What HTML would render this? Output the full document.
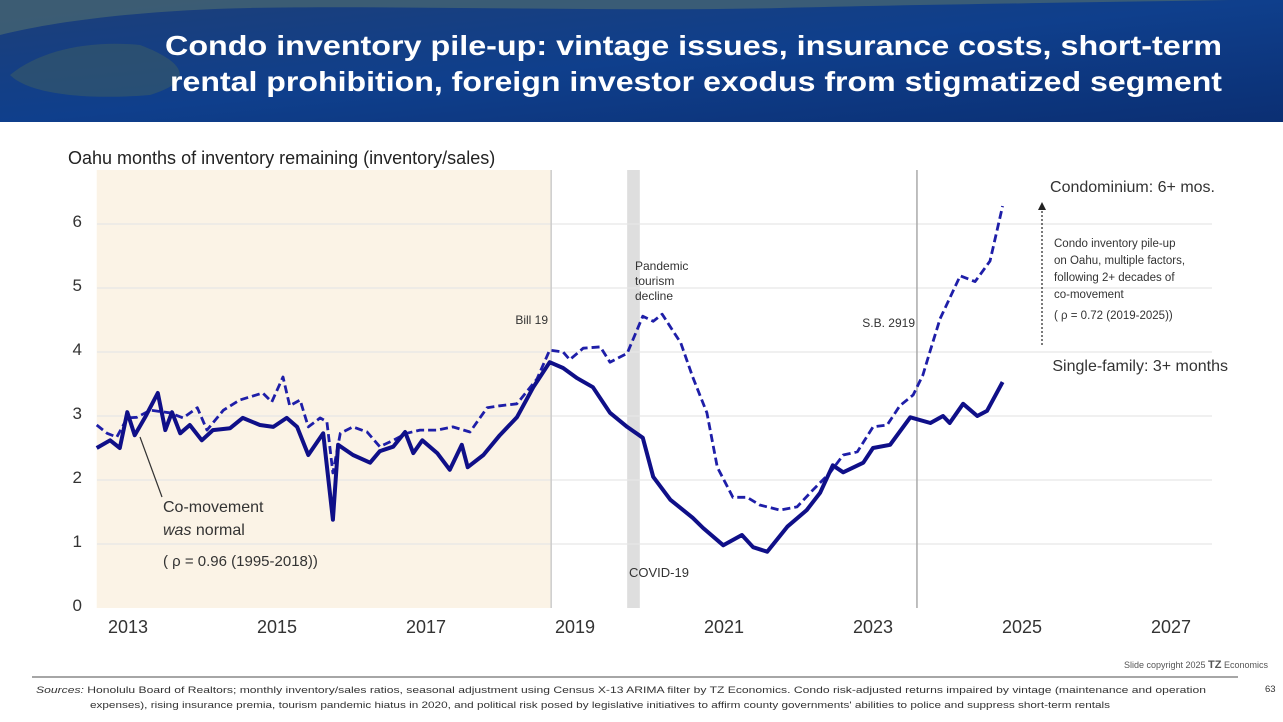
<!DOCTYPE html>
<html><head><meta charset="utf-8"><style>
html,body{margin:0;padding:0;background:#fff;}
body{width:1283px;height:722px;overflow:hidden;position:relative;font-family:"Liberation Sans",sans-serif;}
svg{position:absolute;left:0;top:0;}
</style></head><body>
<svg id="chart" width="1283" height="722" viewBox="0 0 1283 722">
<defs>
<linearGradient id="sea" x1="0" y1="0" x2="1" y2="1">
<stop offset="0" stop-color="#1d3f78"/><stop offset="0.5" stop-color="#0f3f8c"/><stop offset="1" stop-color="#0b2f73"/>
</linearGradient>
</defs>
<g>
<rect x="0" y="0" width="1283" height="122" fill="url(#sea)"/>
<path d="M0,35 C60,20 150,10 250,8 C400,5 600,12 780,8 C900,5 1050,3 1230,0 L0,0 Z" fill="#4a6a70" opacity="0.7"/>
<path d="M10,75 C40,50 90,40 140,45 C180,60 200,80 150,95 C90,100 30,95 10,75 Z" fill="#3d5c64" opacity="0.55"/>
<text x="165" y="55" textLength="1057" lengthAdjust="spacingAndGlyphs" font-size="28" font-weight="bold" fill="#fff">Condo inventory pile-up:  vintage issues, insurance costs, short-term</text>
<text x="170" y="91" textLength="1052" lengthAdjust="spacingAndGlyphs" font-size="28" font-weight="bold" fill="#fff">rental prohibition, foreign investor exodus from stigmatized segment</text>
</g>
<text x="68" y="164" font-size="18" fill="#222">Oahu months of inventory remaining (inventory/sales)</text>
<g id="plot"></g>
<text x="1215" y="192" text-anchor="end" font-size="16" fill="#333">Condominium:  6+ mos.</text>
<text x="1228" y="371" text-anchor="end" font-size="16" fill="#333">Single-family:  3+ months</text>
<line x1="1042" y1="345" x2="1042" y2="208" stroke="#222" stroke-width="1.2" stroke-dasharray="2,2"/>
<path d="M1038,210 L1042,202 L1046,210 Z" fill="#222"/>
<g font-size="11.5" fill="#333">
<text x="1054" y="247">Condo inventory pile-up</text>
<text x="1054" y="264">on Oahu, multiple factors,</text>
<text x="1054" y="281">following 2+ decades of</text>
<text x="1054" y="298">co-movement</text>
<text x="1054" y="319">( ρ = 0.72  (2019-2025))</text>
</g>
<g font-size="16" fill="#333">
<line x1="162" y1="497" x2="140" y2="437" stroke="#333" stroke-width="1.2"/>
<text x="163" y="512">Co-movement</text>
<text x="163" y="535"><tspan font-style="italic">was</tspan> normal</text>
<text x="163" y="566" font-size="15">( ρ = 0.96  (1995-2018))</text>
</g>
<text x="636" y="270" font-size="12" fill="#333"><tspan x="635" dy="0">Pandemic</tspan><tspan x="635" dy="15">tourism</tspan><tspan x="635" dy="15">decline</tspan></text>
<text x="548" y="324" text-anchor="end" font-size="12" fill="#333">Bill 19</text>
<text x="915" y="327" text-anchor="end" font-size="12" fill="#333">S.B. 2919</text>
<text x="629" y="577" font-size="13" fill="#333">COVID-19</text>
<g>
<text x="1268" y="668" text-anchor="end" font-size="9" fill="#555">Slide copyright 2025 <tspan font-weight="bold" font-size="11">TZ</tspan> Economics</text>
<line x1="32" y1="677" x2="1238" y2="677" stroke="#888" stroke-width="1.5"/>
<text x="36" y="693" font-size="9.5" textLength="1170" lengthAdjust="spacingAndGlyphs" fill="#333"><tspan font-style="italic">Sources:</tspan>  Honolulu Board of Realtors; monthly inventory/sales ratios, seasonal adjustment using Census X-13 ARIMA filter by TZ Economics.  Condo risk-adjusted returns impaired by vintage (maintenance and operation</text>
<text x="90" y="708" font-size="9.5" textLength="1020" lengthAdjust="spacingAndGlyphs" fill="#333">expenses), rising insurance premia, tourism pandemic hiatus in 2020, and political risk posed by legislative initiatives to affirm county governments' abilities to police and suppress short-term rentals</text>
<text x="1265" y="692" font-size="9.5" fill="#333">63</text>
</g>
</svg>
<script>
const yTicks=[0,1,2,3,4,5,6];
const xTicks=[2013,2015,2017,2019,2021,2023,2025,2027];
const sfYears=[2012.58,2012.76,2012.89,2012.99,2013.09,2013.23,2013.40,2013.50,2013.59,2013.70,2013.83,2013.99,2014.14,2014.37,2014.54,2014.77,2014.95,2015.13,2015.27,2015.42,2015.62,2015.75,2015.82,2016.02,2016.25,2016.38,2016.56,2016.72,2016.83,2016.95,2017.15,2017.32,2017.48,2017.56,2017.77,2017.99,2018.22,2018.44,2018.66,2018.84,2019.03,2019.24,2019.47,2019.70,2019.91,2020.05,2020.28,2020.58,2020.72,2020.99,2021.24,2021.39,2021.58,2021.85,2022.11,2022.29,2022.46,2022.60,2022.87,2023.00,2023.23,2023.50,2023.77,2023.94,2024.03,2024.21,2024.40,2024.53,2024.74];
const sfValues=[2.5,2.62,2.5,3.06,2.7,2.98,3.36,2.78,3.06,2.73,2.86,2.62,2.78,2.81,2.97,2.86,2.83,2.97,2.83,2.39,2.73,1.38,2.55,2.39,2.27,2.45,2.52,2.75,2.42,2.62,2.42,2.16,2.55,2.2,2.39,2.7,2.98,3.45,3.84,3.75,3.59,3.45,3.05,2.83,2.66,2.05,1.69,1.41,1.25,0.98,1.14,0.95,0.88,1.27,1.53,1.8,2.23,2.12,2.27,2.5,2.55,2.98,2.89,3.0,2.89,3.19,3.0,3.08,3.53];
const condoYears=[2012.58,2012.72,2012.85,2012.99,2013.12,2013.30,2013.56,2013.74,2013.93,2014.06,2014.28,2014.50,2014.81,2014.93,2015.08,2015.17,2015.31,2015.42,2015.58,2015.67,2015.75,2015.85,2016.02,2016.21,2016.38,2016.56,2016.74,2016.92,2017.15,2017.36,2017.59,2017.82,2017.99,2018.22,2018.49,2018.66,2018.84,2018.93,2019.11,2019.34,2019.47,2019.70,2019.91,2020.05,2020.17,2020.42,2020.58,2020.77,2020.91,2021.12,2021.31,2021.48,2021.75,2021.98,2022.19,2022.42,2022.60,2022.79,2023.00,2023.19,2023.36,2023.54,2023.67,2023.77,2023.90,2024.03,2024.17,2024.37,2024.57,2024.74];
const condoValues=[2.86,2.73,2.67,2.97,2.98,3.09,3.05,2.97,3.13,2.78,3.09,3.25,3.36,3.22,3.61,3.16,3.25,2.83,2.97,2.91,2.11,2.73,2.83,2.75,2.52,2.62,2.73,2.78,2.78,2.83,2.75,3.13,3.16,3.19,3.58,4.03,4.0,3.88,4.06,4.08,3.84,3.98,4.56,4.48,4.59,4.14,3.61,3.05,2.2,1.73,1.73,1.61,1.53,1.58,1.84,2.11,2.39,2.44,2.83,2.86,3.16,3.33,3.64,4.03,4.52,4.84,5.19,5.1,5.42,6.28];
const shadeRange=[2012.58,2018.68];
const covidRange=[2019.7,2019.87];
const sbYear=[2023.59];

const NS="http://www.w3.org/2000/svg";
const X=y=>128+(y-2013)*74.5;
const Y=v=>608-v*64;
const plot=document.getElementById('plot');
function mk(t,a){const e=document.createElementNS(NS,t);for(const k in a)e.setAttribute(k,a[k]);plot.appendChild(e);return e;}

let r=mk('rect',{x:X(shadeRange[0]),y:170,width:X(shadeRange[1])-X(shadeRange[0]),height:Y(0)-170,fill:'#fbf3e6'});


let cb=mk('rect',{x:X(covidRange[0]),y:170,width:X(covidRange[1])-X(covidRange[0]),height:Y(0)-170,fill:'#dedede'});


yTicks.forEach(t=>{
  if(t>0){const g=mk('line',{x1:97,x2:1212,y1:Y(t),y2:Y(t),stroke:'#e6e6e6','stroke-width':1.2});
  
  }
  const l=mk('text',{x:82,y:Y(t)+3,'text-anchor':'end','font-size':17,fill:'#333'});
  l.textContent=t;
  
  
});
xTicks.forEach(t=>{
  const l=mk('text',{x:X(t),y:633,'text-anchor':'middle','font-size':18,fill:'#333'});
  l.textContent=t;
  
  
});
let b=mk('line',{x1:X(shadeRange[1]),x2:X(shadeRange[1]),y1:170,y2:Y(0),stroke:'#ccc','stroke-width':1.5});


let s=mk('line',{x1:X(sbYear[0]),x2:X(sbYear[0]),y1:170,y2:Y(0),stroke:'#aaa','stroke-width':1.5});


function pts(xs,vs){return xs.map((x,i)=>X(x).toFixed(1)+','+Y(vs[i]).toFixed(1)).join(' ');}
let c=mk('polyline',{points:pts(condoYears,condoValues),fill:'none',stroke:'#1e1ea8','stroke-width':2.8,'stroke-dasharray':'8,4','stroke-linejoin':'round'});


let sf=mk('polyline',{points:pts(sfYears,sfValues),fill:'none',stroke:'#0f0f88','stroke-width':4,'stroke-linejoin':'round'});


</script>
</body></html>
